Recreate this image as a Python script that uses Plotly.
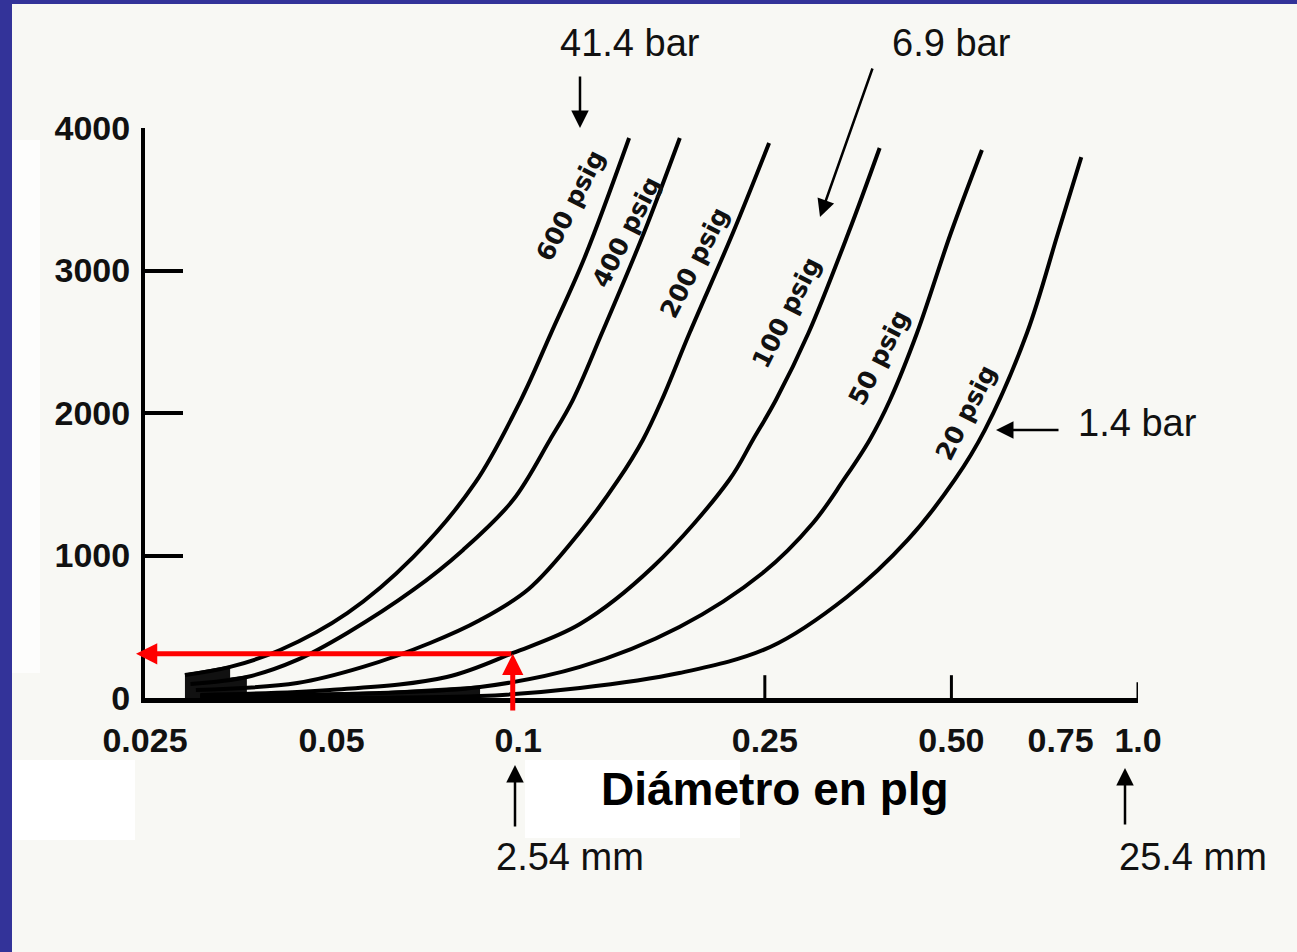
import math
import plotly.graph_objects as go

# ---------------- data ----------------
curve_labels = ["600 psig", "400 psig", "200 psig", "100 psig", "50 psig", "20 psig"]

d_600 = [0.0290, 0.0343, 0.0413, 0.0530, 0.0677, 0.0852, 0.1010, 0.113, 0.1281, 0.151]
q_600 = [161, 218, 337, 596, 989, 1509, 2091, 2561, 3095, 3930]

d_400 = [0.0296, 0.0365, 0.0440, 0.0530, 0.0677, 0.0815, 0.0981, 0.1125, 0.1225, 0.1365, 0.1595, 0.1823]
q_400 = [98, 147, 267, 456, 758, 1039, 1389, 1811, 2091, 2561, 3263, 3930]

d_200 = [0.0302, 0.0440, 0.0562, 0.0721, 0.0868, 0.1040, 0.1258, 0.145, 0.1589, 0.1705, 0.189, 0.222, 0.254]
q_200 = [56, 105, 218, 386, 547, 765, 1165, 1530, 1811, 2091, 2561, 3263, 3895]

d_100 = [0.0307, 0.0497, 0.0767, 0.0981, 0.1258, 0.1649, 0.219, 0.2391, 0.2605, 0.294, 0.341, 0.383]
q_100 = [21, 56, 147, 316, 519, 919, 1530, 1811, 2091, 2561, 3263, 3860]

d_50 = [0.0307, 0.0598, 0.0868, 0.1258, 0.182, 0.248, 0.299, 0.335, 0.369, 0.398, 0.440, 0.499, 0.560]
q_50 = [14, 35, 77, 218, 498, 877, 1228, 1530, 1811, 2091, 2561, 3263, 3846]

d_20 = [0.0307, 0.0868, 0.1258, 0.182, 0.255, 0.339, 0.425, 0.506, 0.566, 0.662, 0.743, 0.81]
q_20 = [7, 14, 70, 175, 358, 709, 1109, 1530, 1880, 2561, 3263, 3796]

curves_d = [d_600, d_400, d_200, d_100, d_50, d_20]
curves_q = [q_600, q_400, q_200, q_100, q_50, q_20]

# label anchor points (data coords) for curve labels
label_d = [0.1216, 0.1492, 0.1928, 0.2713, 0.3818, 0.5275]
label_q = [3453, 3270, 3053, 2702, 2393, 2007]

x_tick_vals = [0.025, 0.05, 0.1, 0.25, 0.5, 0.75, 1.0]
x_tick_text = ["0.025", "0.05", "0.1", "0.25", "0.50", "0.75", "1.0"]
y_tick_vals = [0, 1000, 2000, 3000, 4000]
x_marked = [0.25, 0.5, 1.0]
x_marked_len = [160, 160, 110]

red_d = 0.098   # diameter read-off (about 0.1 plg)
red_q = 310     # value read-off

# ---------------- layout geometry ----------------
W, H = 1297, 952
L, R, T, B = 145, 159, 128, 254
PW, PH = W - L - R, H - T - B
X_MIN, X_MAX = 0.025, 1.0
Y_MIN, Y_MAX = 0, 4000


def xp(px):
    return (px - L) / PW


def yp(py):
    return (H - B - py) / PH


def d2px(d):
    return L + (math.log10(d) - math.log10(X_MIN)) / (math.log10(X_MAX) - math.log10(X_MIN)) * PW


def q2py(q):
    return H - B - (q - Y_MIN) / (Y_MAX - Y_MIN) * PH


BG = "#f8f8f4"
BLUE = "#333399"
INK = "#111111"
TICKFONT = "Liberation Sans, Arial, sans-serif"
PLAIN = "Liberation Sans, Arial, sans-serif"

fig = go.Figure()

# dense ink where the curves merge near the axis
for d, q in ((d_600[:2], q_600[:2]), (d_400[:2], q_400[:2]), (d_50[:3], q_50[:3])):
    fig.add_trace(go.Scatter(x=d, y=q, mode="lines", fill="tozeroy",
                             fillcolor="#111111", line=dict(color="#111111", width=3),
                             showlegend=False, hoverinfo="skip"))

for d, q in zip(curves_d, curves_q):
    fig.add_trace(go.Scatter(
        x=d, y=q, mode="lines",
        line=dict(color="black", width=4, shape="spline", smoothing=1.0),
        showlegend=False, hoverinfo="skip"))

# x-axis marks at 0.25, 0.50, 1.0
tx, ty = [], []
for v, ln in zip(x_marked, x_marked_len):
    tx += [v, v, None]
    ty += [0, ln, None]
fig.add_trace(go.Scatter(x=tx, y=ty, mode="lines",
                         line=dict(color="black", width=3),
                         showlegend=False, hoverinfo="skip"))

ann = []
# curve labels
for lab, d, q in zip(curve_labels, label_d, label_q):
    ann.append(dict(x=math.log10(d), y=q, xref="x", yref="y", text="<b>%s</b>" % lab,
                    showarrow=False, textangle=-63,
                    font=dict(family="DejaVu Sans, Verdana, sans-serif", size=25, color=INK),
                    xanchor="center", yanchor="middle"))

# plain text notes
notes = [("41.4 bar", 630, 43), ("6.9 bar", 951, 43), ("1.4 bar", 1137, 423),
         ("2.54 mm", 570, 857), ("25.4 mm", 1193, 857)]
for txt, px, py in notes:
    ann.append(dict(x=xp(px), y=yp(py), xref="paper", yref="paper", text=txt,
                    showarrow=False, font=dict(family=PLAIN, size=38, color=INK),
                    xanchor="center", yanchor="middle"))

ann.append(dict(x=xp(775), y=yp(789), xref="paper", yref="paper",
                text="<b>Diámetro en plg</b>", showarrow=False,
                font=dict(family="Liberation Sans, Arial, sans-serif", size=46, color="black"),
                xanchor="center", yanchor="middle"))

# black arrows (tip px, tip py, tail dx, tail dy)
arrows = [(580, 128, 0, -53), (820, 217, 53, -150), (996, 430, 64, 0),
          (515, 765, 0, 63), (1125, 768, 0, 58)]
for px, py, ax, ay in arrows:
    ann.append(dict(x=xp(px), y=yp(py), xref="paper", yref="paper", text="",
                    showarrow=True, ax=ax, ay=ay, arrowhead=2, arrowsize=1.4,
                    arrowwidth=2.5, arrowcolor="black", standoff=0))

# red read-off arrows
rx = d2px(red_d)
ry = q2py(red_q)
tip_x = 136
ann.append(dict(x=xp(tip_x), y=yp(ry), xref="paper", yref="paper", text="",
                showarrow=True, ax=rx - tip_x, ay=0, arrowhead=2, arrowsize=0.85,
                arrowwidth=5, arrowcolor="#ff0000", standoff=0))
ann.append(dict(x=xp(rx), y=yp(ry), xref="paper", yref="paper", text="",
                showarrow=True, ax=0, ay=712 - ry, arrowhead=2, arrowsize=0.85,
                arrowwidth=5, arrowcolor="#ff0000", standoff=0))

shapes = [
    # whiter scan patches
    dict(type="rect", xref="paper", yref="paper", x0=xp(12), x1=xp(135), y0=yp(840), y1=yp(760),
         fillcolor="#ffffff", line=dict(width=0), layer="below"),
    dict(type="rect", xref="paper", yref="paper", x0=xp(525), x1=xp(740), y0=yp(838), y1=yp(760),
         fillcolor="#ffffff", line=dict(width=0), layer="below"),
    dict(type="rect", xref="paper", yref="paper", x0=xp(12), x1=xp(40), y0=yp(673), y1=yp(140),
         fillcolor="#fdfdfc", line=dict(width=0), layer="below"),
    # blue frame
    dict(type="rect", xref="paper", yref="paper", x0=xp(0), x1=xp(12), y0=yp(H), y1=yp(0),
         fillcolor=BLUE, line=dict(width=0)),
    dict(type="rect", xref="paper", yref="paper", x0=xp(0), x1=xp(W), y0=yp(4), y1=yp(0),
         fillcolor=BLUE, line=dict(width=0)),
]

fig.update_layout(
    width=W, height=H,
    margin=dict(l=L, r=R, t=T, b=B, pad=0),
    paper_bgcolor=BG, plot_bgcolor=BG,
    showlegend=False,
    annotations=ann, shapes=shapes,
    xaxis=dict(type="log", range=[math.log10(X_MIN), math.log10(X_MAX)],
               showline=True, linecolor="black", linewidth=5, mirror=False,
               showgrid=False, zeroline=False, ticks="",
               tickvals=x_tick_vals, ticktext=x_tick_text,
               tickfont=dict(family=TICKFONT, size=34, color=INK, weight="bold"),
               ticklabelstandoff=8, fixedrange=True),
    yaxis=dict(range=[Y_MIN, Y_MAX], showline=True, linecolor="black", linewidth=4,
               showgrid=False, zeroline=False, ticks="inside", ticklen=38,
               tickwidth=4, tickcolor="black", tickvals=y_tick_vals,
               tickfont=dict(family=TICKFONT, size=34, color=INK, weight="bold"),
               ticklabelstandoff=4, fixedrange=True),
)

fig.write_html("out.html", config={"displayModeBar": False},
               post_script="document.body.style.margin='0px';")
